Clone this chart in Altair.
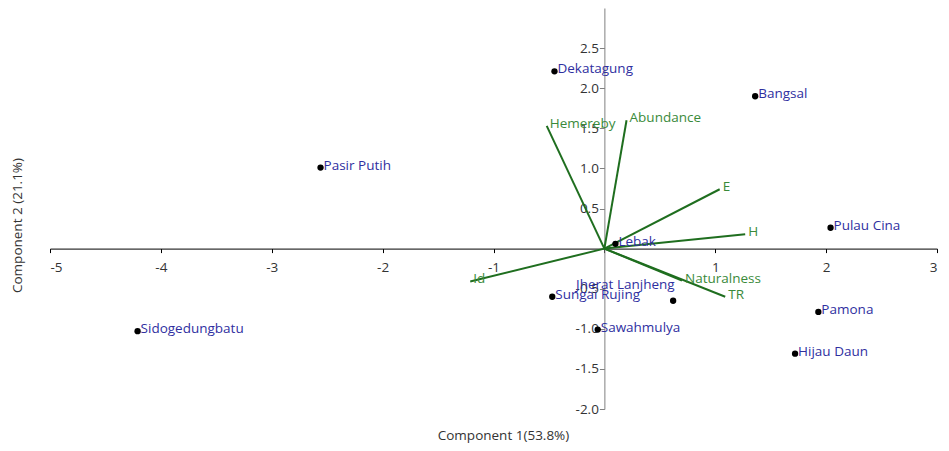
import altair as alt
import pandas as pd

# Sites (PCA scores)
sites = ["Dekatagung", "Bangsal", "Pasir Putih", "Pulau Cina", "Lebak", "Sidogedungbatu",
         "Sungai Rujing", "Jherat Lanjheng", "Sawahmulya", "Pamona", "Hijau Daun"]
pc1 = [-0.45, 1.36, -2.56, 2.04, 0.10, -4.21, -0.47, 0.62, -0.06, 1.93, 1.72]
pc2 = [2.21, 1.90, 1.01, 0.26, 0.06, -1.03, -0.60, -0.65, -1.01, -0.79, -1.31]

# Variables (loadings)
variables = ["Hemereby", "Abundance", "E", "H", "Id", "TR", "Naturalness"]
ld1 = [-0.52, 0.20, 1.04, 1.27, -1.21, 1.09, 0.70]
ld2 = [1.53, 1.60, 0.74, 0.18, -0.41, -0.60, -0.40]

x_ticks = [-5, -4, -3, -2, -1, 0, 1, 2, 3]
y_ticks = [-2.0, -1.5, -1.0, -0.5, 0.0, 0.5, 1.0, 1.5, 2.0, 2.5]

sites_df = pd.DataFrame({"site": sites, "pc1": pc1, "pc2": pc2})
vars_df = pd.DataFrame({"var": variables, "x": ld1, "y": ld2,
                        "x0": [0] * len(variables), "y0": [0] * len(variables)})

FONT = "Open Sans"
FS = 13.5
PAD_L, PAD_R, PAD_T, PAD_B = 42, 4, 0, 34
W, H = 887, 401
xdom = [-5, 3]
ydom = [-2, 3]
y0_px = (ydom[1] - 0) / (ydom[1] - ydom[0]) * H
x0_px = (0 - xdom[0]) / (xdom[1] - xdom[0]) * W

xscale = alt.Scale(domain=xdom, nice=False, zero=False)
yscale = alt.Scale(domain=ydom, nice=False, zero=False)

LABEL_EXPR = "datum.value == 0 ? '' : replace(datum.label, '\u2212', '-')"

x_axis = alt.Axis(orient="bottom", offset=-(H - y0_px), values=x_ticks, format="d",
                  labelExpr=LABEL_EXPR,
                  grid=False, tickSize=4, tickColor="black", domainColor="black",
                  labelColor="#333333", labelFont=FONT, labelFontSize=FS, labelPadding=8,
                  title="Component 1(53.8%)", titleFont=FONT, titleFontSize=FS,
                  titleFontWeight="normal", titleColor="#333333",
                  titleBaseline="middle", titleX=453, titleY=187)
y_axis = alt.Axis(orient="left", offset=-x0_px, values=y_ticks, format=".1f",
                  labelExpr=LABEL_EXPR,
                  grid=False, tickSize=5, tickColor="#808080", domainColor="#808080",
                  labelColor="#333333", labelFont=FONT, labelFontSize=FS, labelPadding=1,
                  title="Component 2 (21.1%)", titleFont=FONT, titleFontSize=FS,
                  titleFontWeight="normal", titleColor="#333333",
                  titleBaseline="middle", titleX=17 - (8 + PAD_L + x0_px), titleY=217)

arrows = alt.Chart(vars_df).mark_rule(color="#1f6e1f", strokeWidth=2).encode(
    x=alt.X("x0:Q", scale=xscale, axis=x_axis),
    y=alt.Y("y0:Q", scale=yscale, axis=y_axis),
    x2="x:Q",
    y2="y:Q",
)

arrow_labels = alt.Chart(vars_df).mark_text(
    align="left", baseline="middle", dx=3, dy=-2, font=FONT, fontSize=FS, color="#3a8a3a"
).encode(
    x=alt.X("x:Q", scale=xscale),
    y=alt.Y("y:Q", scale=yscale),
    text="var:N",
)

points = alt.Chart(sites_df).mark_circle(size=40, color="black", opacity=1).encode(
    x=alt.X("pc1:Q", scale=xscale),
    y=alt.Y("pc2:Q", scale=yscale),
)

point_labels = alt.Chart(sites_df).transform_filter(
    "datum.site != 'Jherat Lanjheng'"
).mark_text(
    align="left", baseline="middle", dx=3, dy=-2, font=FONT, fontSize=FS, color="#2f2f9f"
).encode(
    x=alt.X("pc1:Q", scale=xscale),
    y=alt.Y("pc2:Q", scale=yscale),
    text="site:N",
)

jherat_label = alt.Chart(sites_df).transform_filter(
    "datum.site == 'Jherat Lanjheng'"
).mark_text(
    align="left", baseline="middle", dx=-97, dy=-16, font=FONT, fontSize=FS, color="#2f2f9f"
).encode(
    x=alt.X("pc1:Q", scale=xscale),
    y=alt.Y("pc2:Q", scale=yscale),
    text="site:N",
)

chart = alt.layer(arrows, arrow_labels, points, point_labels, jherat_label).properties(
    width=W, height=H,
    autosize=alt.AutoSizeParams(type="none"),
    padding={"left": PAD_L, "top": PAD_T, "right": PAD_R, "bottom": PAD_B},
).configure_view(stroke=None)

chart.save("out.html", embed_options={"renderer": "svg", "actions": False})
